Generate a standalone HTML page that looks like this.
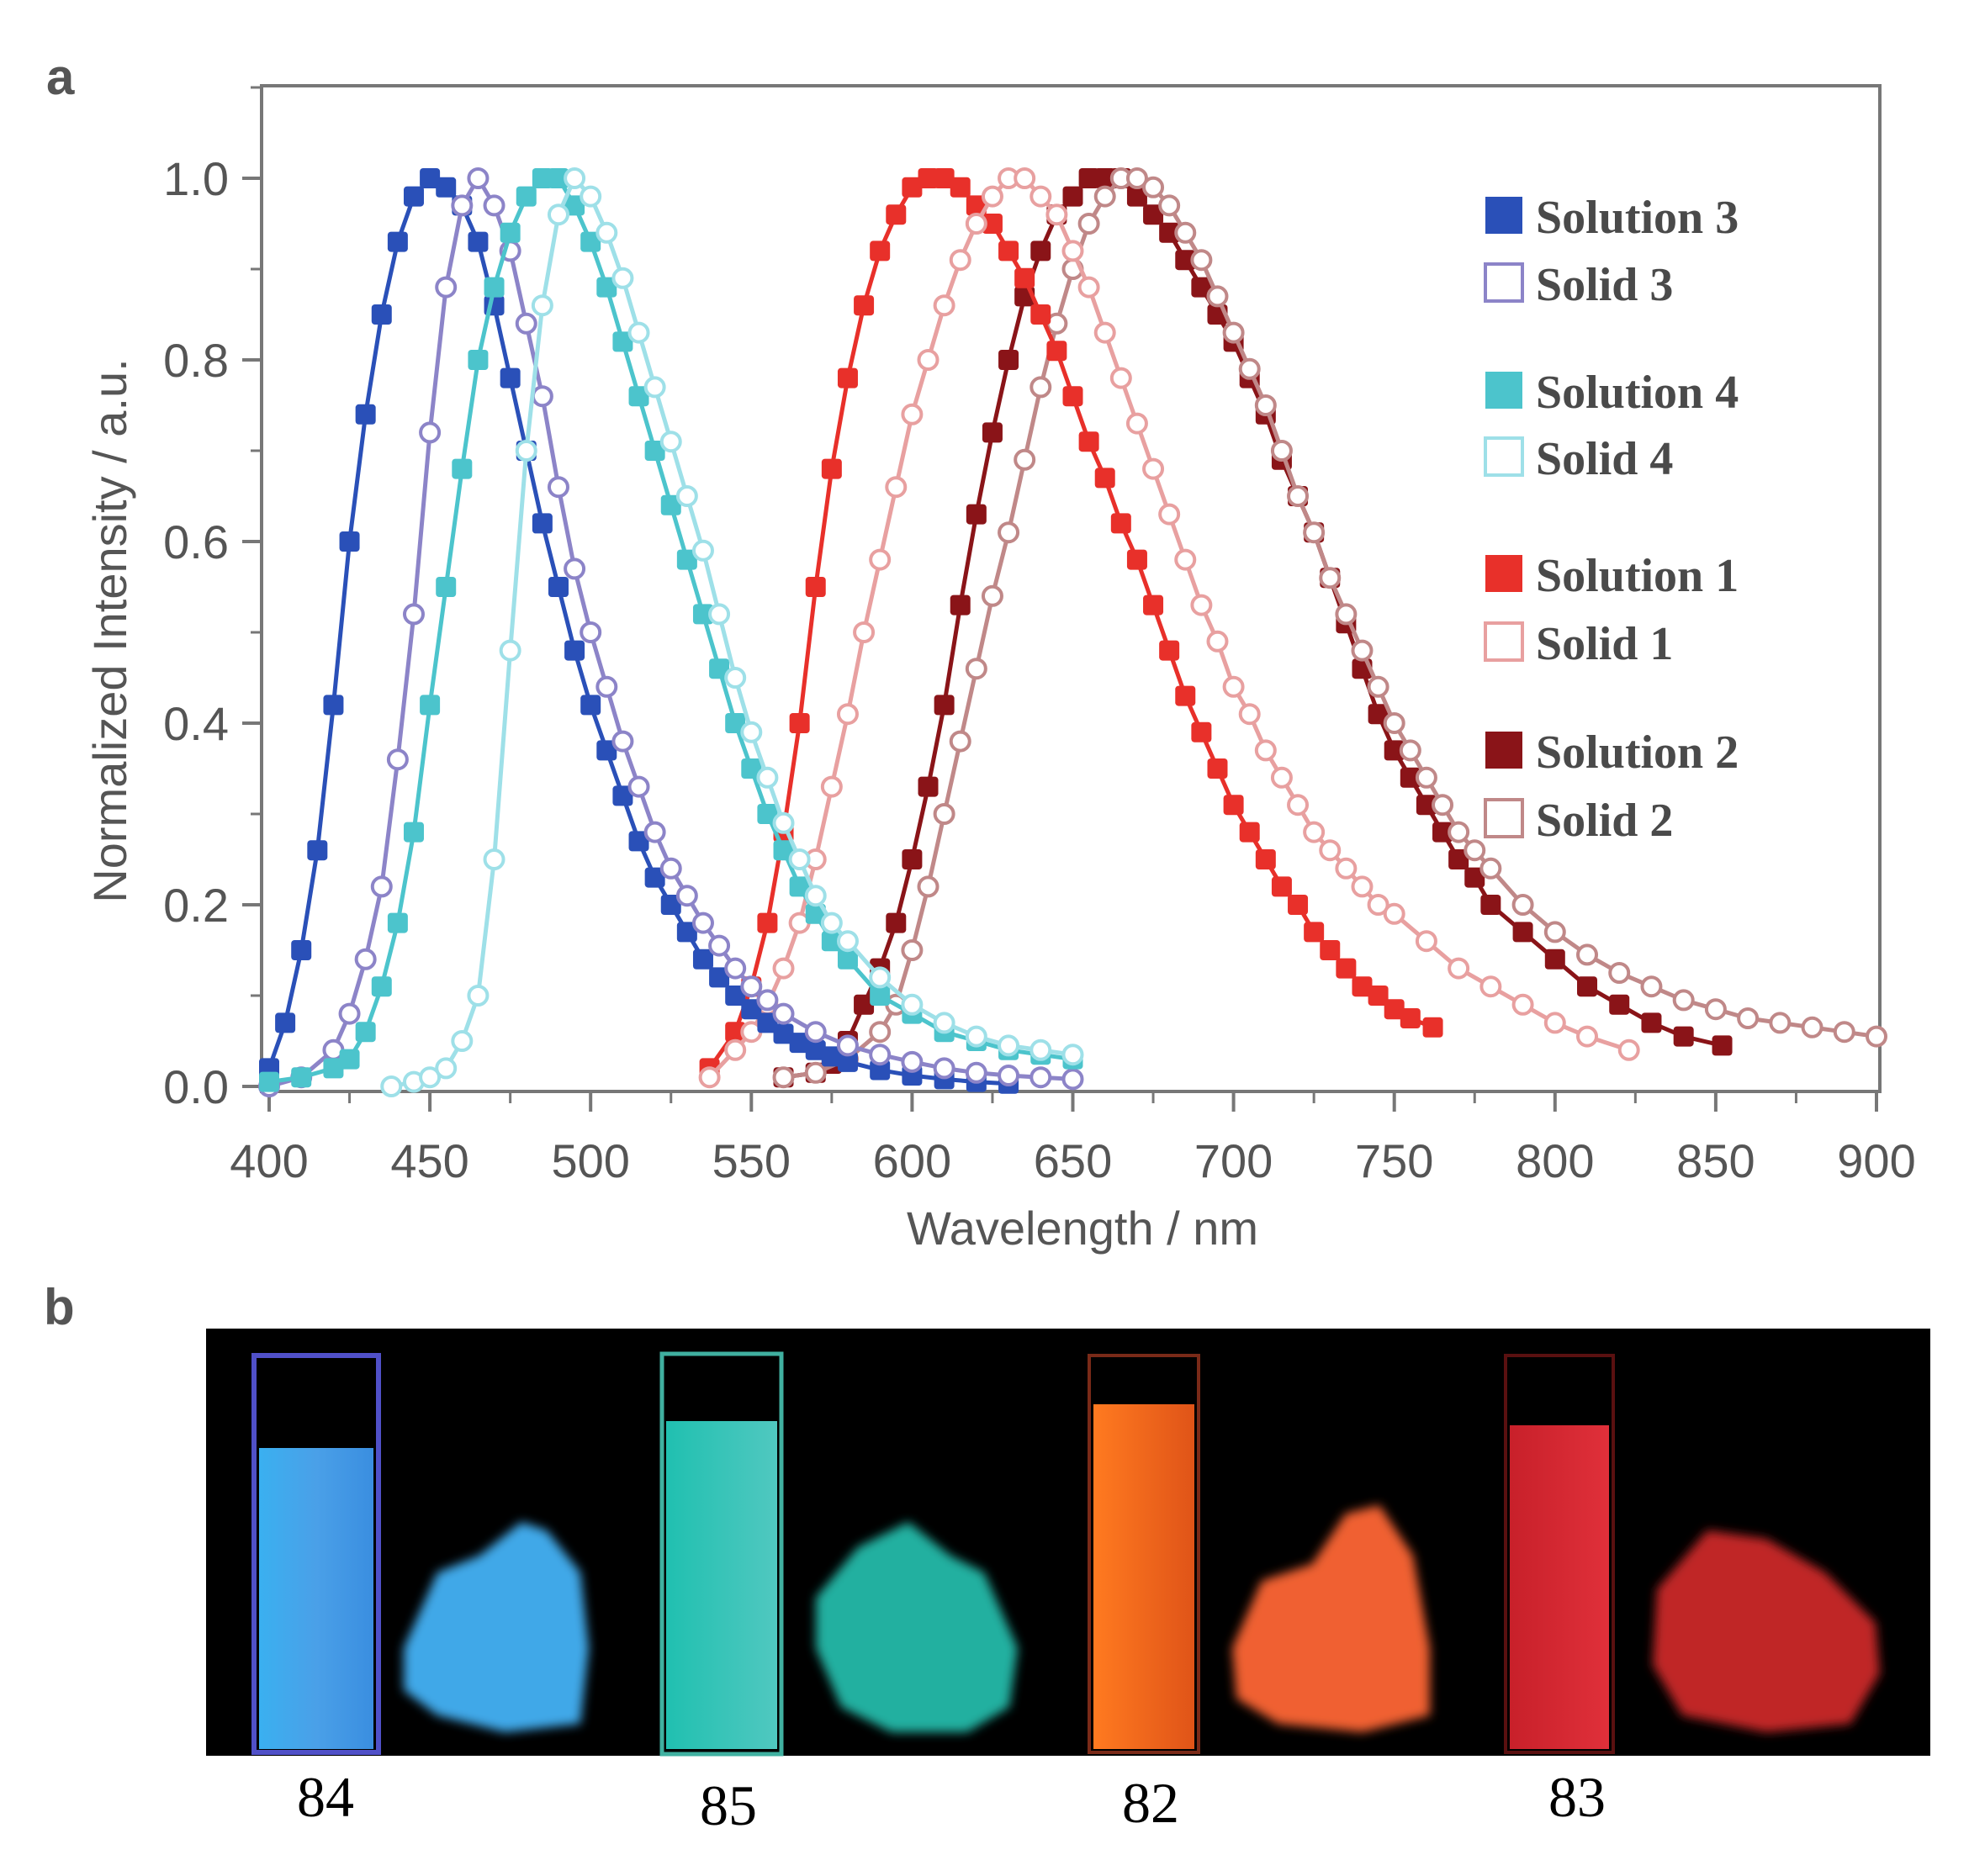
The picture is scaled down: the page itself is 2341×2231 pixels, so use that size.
<!DOCTYPE html>
<html><head><meta charset="utf-8">
<style>
html,body{margin:0;padding:0;background:#fff;}
svg{display:block;}
.tk{font-family:"Liberation Sans",sans-serif;font-size:56px;fill:#555;}
.lg{font-family:"Liberation Serif",serif;font-size:56px;font-weight:bold;fill:#4a4a4a;}
.num{font-family:"Liberation Serif",serif;font-size:68px;fill:#000;}
</style></head>
<body>
<svg id="chart" width="2341" height="2231" viewBox="0 0 2341 2231" xmlns="http://www.w3.org/2000/svg">
<text x="55" y="112" font-family="Liberation Sans,sans-serif" font-size="60" font-weight="bold" fill="#555">a</text>
<text x="52" y="1575" font-family="Liberation Sans,sans-serif" font-size="60" font-weight="bold" fill="#555">b</text>
<rect x="311" y="102" width="1924" height="1196" fill="none" stroke="#777" stroke-width="4"/>
<g id="axes"></g>
<g id="series"></g>
<g id="legend"></g>
<text x="1287" y="1480" text-anchor="middle" class="tk">Wavelength / nm</text>
<text transform="translate(150,750) rotate(-90)" text-anchor="middle" class="tk">Normalized Intensity / a.u.</text>

<g>
<defs>
<linearGradient id="gb" x1="0" x2="1"><stop offset="0" stop-color="#3ab0f0"/><stop offset="0.5" stop-color="#4aa0e8"/><stop offset="1" stop-color="#3a8ee0"/></linearGradient>
<linearGradient id="gc" x1="0" x2="1"><stop offset="0" stop-color="#20c0b0"/><stop offset="1" stop-color="#50c8c0"/></linearGradient>
<linearGradient id="go" x1="0" x2="1"><stop offset="0" stop-color="#ff7a20"/><stop offset="1" stop-color="#e05418"/></linearGradient>
<linearGradient id="gr" x1="0" x2="1"><stop offset="0" stop-color="#c8202a"/><stop offset="1" stop-color="#e0303a"/></linearGradient>
<filter id="bl"><feGaussianBlur stdDeviation="6"/></filter>
</defs>
<rect x="245" y="1580" width="2050" height="508" fill="#000"/>
<rect x="302" y="1612" width="148" height="472" fill="none" stroke="#5050c8" stroke-width="6"/>
<rect x="308" y="1722" width="136" height="358" fill="url(#gb)"/>
<g filter="url(#bl)"><path d="M480 1960 L520 1870 L570 1850 L620 1810 L650 1820 L690 1870 L700 1960 L690 2050 L600 2060 L520 2040 L480 2010Z" fill="#40a8e8"/></g>
<rect x="787" y="1610" width="142" height="476" fill="none" stroke="#40b0a0" stroke-width="5"/>
<rect x="792" y="1690" width="132" height="390" fill="url(#gc)"/>
<g filter="url(#bl)"><path d="M970 1900 L1020 1840 L1080 1810 L1130 1850 L1170 1870 L1210 1960 L1200 2030 L1150 2060 L1060 2060 L1000 2030 L970 1960Z" fill="#20b0a0"/></g>
<rect x="1295" y="1612" width="130" height="472" fill="none" stroke="#7a2a18" stroke-width="4"/>
<rect x="1300" y="1670" width="120" height="410" fill="url(#go)"/>
<g filter="url(#bl)"><path d="M1465 1960 L1500 1880 L1560 1860 L1600 1800 L1640 1790 L1680 1850 L1700 1960 L1700 2040 L1620 2060 L1520 2050 L1470 2020Z" fill="#f06030"/></g>
<rect x="1790" y="1612" width="128" height="472" fill="none" stroke="#5a1010" stroke-width="4"/>
<rect x="1795" y="1695" width="118" height="385" fill="url(#gr)"/>
<g filter="url(#bl)"><path d="M1970 1890 L2030 1820 L2100 1830 L2170 1870 L2230 1930 L2235 1990 L2200 2050 L2100 2060 L2000 2040 L1965 1980Z" fill="#c02828"/></g>
</g>
<text x="387" y="2160" text-anchor="middle" class="num">84</text>
<text x="866" y="2170" text-anchor="middle" class="num">85</text>
<text x="1368" y="2167" text-anchor="middle" class="num">82</text>
<text x="1875" y="2160" text-anchor="middle" class="num">83</text>
</svg>
<script>
const xTicks=[400,450,500,550,600,650,700,750,800,850,900];
const xTickLabels=["400","450","500","550","600","650","700","750","800","850","900"];
const yTicks=[0,0.2,0.4,0.6,0.8,1.0];
const yTickLabels=["0.0","0.2","0.4","0.6","0.8","1.0"];

const sol3X=[400,405,410,415,420,425,430,435,440,445,450,455,460,465,470,475,480,485,490,495,500,505,510,515,520,525,530,535,540,545,550,555,560,565,570,575,580,590,600,610,620,630];
const sol3Y=[0.02,0.07,0.15,0.26,0.42,0.60,0.74,0.85,0.93,0.98,1.0,0.99,0.97,0.93,0.86,0.78,0.70,0.62,0.55,0.48,0.42,0.37,0.32,0.27,0.23,0.20,0.17,0.14,0.12,0.10,0.085,0.07,0.058,0.048,0.04,0.033,0.027,0.018,0.012,0.008,0.005,0.003];
const sld3X=[400,410,420,425,430,435,440,445,450,455,460,465,470,475,480,485,490,495,500,505,510,515,520,525,530,535,540,545,550,555,560,570,580,590,600,610,620,630,640,650];
const sld3Y=[0.0,0.01,0.04,0.08,0.14,0.22,0.36,0.52,0.72,0.88,0.97,1.0,0.97,0.92,0.84,0.76,0.66,0.57,0.50,0.44,0.38,0.33,0.28,0.24,0.21,0.18,0.155,0.13,0.11,0.095,0.08,0.06,0.045,0.035,0.027,0.02,0.015,0.012,0.01,0.008];
const sol4X=[400,410,420,425,430,435,440,445,450,455,460,465,470,475,480,485,490,495,500,505,510,515,520,525,530,535,540,545,550,555,560,565,570,575,580,590,600,610,620,630,640,650];
const sol4Y=[0.005,0.01,0.02,0.03,0.06,0.11,0.18,0.28,0.42,0.55,0.68,0.80,0.88,0.94,0.98,1.0,1.0,0.97,0.93,0.88,0.82,0.76,0.70,0.64,0.58,0.52,0.46,0.40,0.35,0.30,0.26,0.22,0.19,0.16,0.14,0.10,0.08,0.06,0.05,0.04,0.035,0.03];
const sld4X=[438,445,450,455,460,465,470,475,480,485,490,495,500,505,510,515,520,525,530,535,540,545,550,555,560,565,570,575,580,590,600,610,620,630,640,650];
const sld4Y=[0.0,0.005,0.01,0.02,0.05,0.10,0.25,0.48,0.70,0.86,0.96,1.0,0.98,0.94,0.89,0.83,0.77,0.71,0.65,0.59,0.52,0.45,0.39,0.34,0.29,0.25,0.21,0.18,0.16,0.12,0.09,0.07,0.055,0.045,0.04,0.035];
const sol1X=[537,545,550,555,560,565,570,575,580,585,590,595,600,605,610,615,620,625,630,635,640,645,650,655,660,665,670,675,680,685,690,695,700,705,710,715,720,725,730,735,740,745,750,755,762];
const sol1Y=[0.02,0.06,0.11,0.18,0.28,0.40,0.55,0.68,0.78,0.86,0.92,0.96,0.99,1.0,1.0,0.99,0.97,0.95,0.92,0.89,0.85,0.81,0.76,0.71,0.67,0.62,0.58,0.53,0.48,0.43,0.39,0.35,0.31,0.28,0.25,0.22,0.20,0.17,0.15,0.13,0.11,0.10,0.085,0.075,0.065];
const sld1X=[537,545,550,555,560,565,570,575,580,585,590,595,600,605,610,615,620,625,630,635,640,645,650,655,660,665,670,675,680,685,690,695,700,705,710,715,720,725,730,735,740,745,750,760,770,780,790,800,810,823];
const sld1Y=[0.01,0.04,0.06,0.09,0.13,0.18,0.25,0.33,0.41,0.50,0.58,0.66,0.74,0.80,0.86,0.91,0.95,0.98,1.0,1.0,0.98,0.96,0.92,0.88,0.83,0.78,0.73,0.68,0.63,0.58,0.53,0.49,0.44,0.41,0.37,0.34,0.31,0.28,0.26,0.24,0.22,0.20,0.19,0.16,0.13,0.11,0.09,0.07,0.055,0.04];
const sol2X=[560,570,575,580,585,590,595,600,605,610,615,620,625,630,635,640,645,650,655,660,665,670,675,680,685,690,695,700,705,710,715,720,725,730,735,740,745,750,755,760,765,770,775,780,790,800,810,820,830,840,852];
const sol2Y=[0.01,0.015,0.025,0.05,0.09,0.13,0.18,0.25,0.33,0.42,0.53,0.63,0.72,0.80,0.87,0.92,0.96,0.98,1.0,1.0,1.0,0.98,0.96,0.94,0.91,0.88,0.85,0.82,0.78,0.74,0.69,0.65,0.61,0.56,0.51,0.46,0.41,0.37,0.34,0.31,0.28,0.25,0.23,0.20,0.17,0.14,0.11,0.09,0.07,0.055,0.045];
const sld2X=[560,570,580,590,595,600,605,610,615,620,625,630,635,640,645,650,655,660,665,670,675,680,685,690,695,700,705,710,715,720,725,730,735,740,745,750,755,760,765,770,775,780,790,800,810,820,830,840,850,860,870,880,890,900];
const sld2Y=[0.01,0.015,0.03,0.06,0.09,0.15,0.22,0.30,0.38,0.46,0.54,0.61,0.69,0.77,0.84,0.90,0.95,0.98,1.0,1.0,0.99,0.97,0.94,0.91,0.87,0.83,0.79,0.75,0.70,0.65,0.61,0.56,0.52,0.48,0.44,0.40,0.37,0.34,0.31,0.28,0.26,0.24,0.20,0.17,0.145,0.125,0.11,0.095,0.085,0.075,0.07,0.065,0.06,0.055];

const seriesNames=["solution-3","solid-3","solution-4","solid-4","solution-1","solid-1","solution-2","solid-2"];
const legendLabels=["Solution 3","Solid 3","Solution 4","Solid 4","Solution 1","Solid 1","Solution 2","Solid 2"];

const NS="http://www.w3.org/2000/svg";
const X0=320,X1=2231,Y0=1292,Y1=212;
function xs(v){return X0+(v-400)/(900-400)*(X1-X0);}
function ys(v){return Y0+(v-0)/(1-0)*(Y1-Y0);}
function mk(tag,attrs,parent){const e=document.createElementNS(NS,tag);for(const k in attrs)e.setAttribute(k,attrs[k]);parent.appendChild(e);return e;}

const axes=document.getElementById('axes');
xTicks.forEach((t,i)=>{
  const l=mk('line',{x1:xs(t),x2:xs(t),y1:1298,y2:1322,stroke:'#777','stroke-width':4},axes);
  
  
  if(i<xTicks.length-1){const m=mk('line',{x1:xs(t+25),x2:xs(t+25),y1:1298,y2:1312,stroke:'#777','stroke-width':3},axes);
  
  }
  const tx=mk('text',{x:xs(t),y:1400,'text-anchor':'middle','class':'tk'},axes);
  tx.textContent=xTickLabels[i];
  
  
});
yTicks.forEach((t,i)=>{
  const l=mk('line',{x1:288,x2:311,y1:ys(t),y2:ys(t),stroke:'#777','stroke-width':4},axes);
  
  
  const m=mk('line',{x1:298,x2:311,y1:ys(t+0.1),y2:ys(t+0.1),stroke:'#777','stroke-width':3},axes);
  
  
  const tx=mk('text',{x:272,y:ys(t)+20,'text-anchor':'end','class':'tk'},axes);
  tx.textContent=yTickLabels[i];
  
  
});

const seriesX=[sol3X,sld3X,sol4X,sld4X,sol1X,sld1X,sol2X,sld2X];
const seriesY=[sol3Y,sld3Y,sol4Y,sld4Y,sol1Y,sld1Y,sol2Y,sld2Y];
const colors=["#2a50b8","#8c84c8","#4cc4cc","#9ee0e8","#e8302a","#e8a0a0","#8a1418","#c08888"];
const filled=[true,false,true,false,true,false,true,false];
const sg=document.getElementById('series');
const order=[6,7,4,5,0,1,2,3];
order.forEach(s=>{
  const g=mk('g',{},sg);
  
  
  const pts=seriesX[s].map((x,i)=>xs(x)+','+ys(seriesY[s][i])).join(' ');
  const pl=mk('polyline',{points:pts,fill:'none',stroke:colors[s],'stroke-width':5},g);
  
  
  seriesX[s].forEach((x,i)=>{
    let m;
    if(filled[s]){m=mk('rect',{x:xs(x)-12,y:ys(seriesY[s][i])-12,width:24,height:24,rx:4,fill:colors[s]},g);}
    else{m=mk('circle',{cx:xs(x),cy:ys(seriesY[s][i]),r:11,fill:'#fff',stroke:colors[s],'stroke-width':4},g);}
    
    
  });
});

const lg=document.getElementById('legend');
const legY=[258,338,466,545,684,765,894,975];
legendLabels.forEach((lab,i)=>{
  const g=mk('g',{},lg);
  
  
  const s=i;
  const r=mk('rect',{x:1766,y:legY[i]-24,width:44,height:44,fill:filled[s]?colors[s]:'#fff',stroke:colors[s],'stroke-width':filled[s]?0:4},g);
  
  
  const t=mk('text',{x:1826,y:legY[i]+19,'class':'lg'},g);
  t.textContent=lab;
  
  
});
</script>
</body></html>
